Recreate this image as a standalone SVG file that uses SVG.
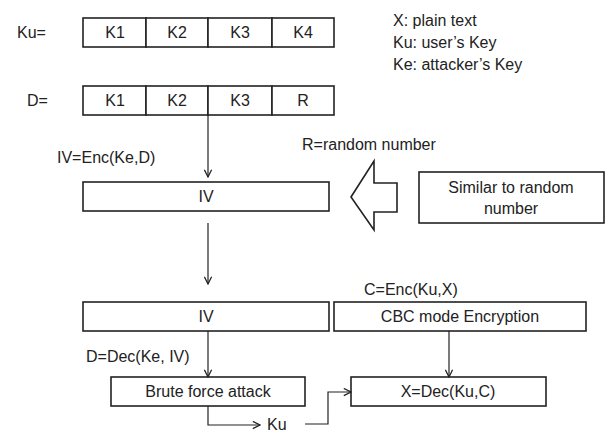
<svg xmlns="http://www.w3.org/2000/svg" width="605" height="432" viewBox="0 0 605 432">
<style>
text{font-family:"Liberation Sans",Arial,sans-serif;font-size:16px;fill:#222}
.box{fill:#fff;stroke:#222;stroke-width:1.6}
.c{text-anchor:middle}
.ln{fill:none;stroke:#222;stroke-width:1.2}
</style>
<defs>
<marker id="ah" viewBox="0 0 10 10" refX="9" refY="5" markerWidth="9" markerHeight="9" markerUnits="userSpaceOnUse" orient="auto">
<path d="M1,1 L9,5 L1,9" fill="none" stroke="#222" stroke-width="1.4"/>
</marker>
</defs>
<rect width="605" height="432" fill="#fff"/>
<g id="legend">
<text x="393" y="26">X: plain text</text>
<text x="393" y="48">Ku: user’s Key</text>
<text x="393" y="70">Ke: attacker’s Key</text>
</g>
<g id="ku">
<text x="17" y="38">Ku=</text>
<rect class="box" x="83" y="18" width="63" height="29"/>
<rect class="box" x="146" y="18" width="62" height="29"/>
<rect class="box" x="208" y="18" width="64" height="29"/>
<rect class="box" x="272" y="18" width="62" height="29"/>
<text class="c" x="115" y="38">K1</text>
<text class="c" x="177" y="38">K2</text>
<text class="c" x="240" y="38">K3</text>
<text class="c" x="303" y="38">K4</text>
</g>
<g id="d">
<text x="27" y="106">D=</text>
<rect class="box" x="83" y="86" width="63" height="29"/>
<rect class="box" x="146" y="86" width="62" height="29"/>
<rect class="box" x="208" y="86" width="64" height="29"/>
<rect class="box" x="272" y="86" width="62" height="29"/>
<text class="c" x="115" y="106">K1</text>
<text class="c" x="177" y="106">K2</text>
<text class="c" x="240" y="106">K3</text>
<text class="c" x="303" y="106">R</text>
</g>
<g id="labels">
<text x="57" y="163">IV=Enc(Ke,D)</text>
<text x="302" y="150">R=random number</text>
<text x="364" y="295">C=Enc(Ku,X)</text>
<text x="86" y="362">D=Dec(Ke, IV)</text>
<text x="267" y="430">Ku</text>
</g>
<g id="iv1">
<rect class="box" x="83" y="182" width="246" height="29"/>
<text class="c" x="206" y="202">IV</text>
</g>
<g id="bigarrow">
<path class="box" d="M351,197 L374,161 L374,183 L397,183 L397,212 L374,212 L374,230 Z" stroke-width="1.3"/>
</g>
<g id="similar">
<rect class="box" x="419" y="172" width="185" height="51"/>
<text class="c" x="511" y="193">Similar to random</text>
<text class="c" x="511" y="214">number</text>
</g>
<g id="iv2">
<rect class="box" x="83" y="302" width="246" height="29"/>
<text class="c" x="206" y="322">IV</text>
</g>
<g id="cbc">
<rect class="box" x="334" y="302" width="252" height="29"/>
<text class="c" x="460" y="322">CBC mode Encryption</text>
</g>
<g id="brute">
<rect class="box" x="111" y="377" width="194" height="29"/>
<text class="c" x="208" y="397">Brute force attack</text>
</g>
<g id="xdec">
<rect class="box" x="351" y="377" width="195" height="29"/>
<text class="c" x="448" y="397">X=Dec(Ku,C)</text>
</g>
<g id="connectors">
<path class="ln" d="M208,115 V177" marker-end="url(#ah)"/>
<path class="ln" d="M208,223 V284" marker-end="url(#ah)"/>
<path class="ln" d="M208,331 V377" marker-end="url(#ah)"/>
<path class="ln" d="M449,331 V377" marker-end="url(#ah)"/>
<path class="ln" d="M208,406 V425 H260" marker-end="url(#ah)"/>
<path class="ln" d="M305,424 H328 V392 H351" marker-end="url(#ah)"/>
</g>
</svg>
